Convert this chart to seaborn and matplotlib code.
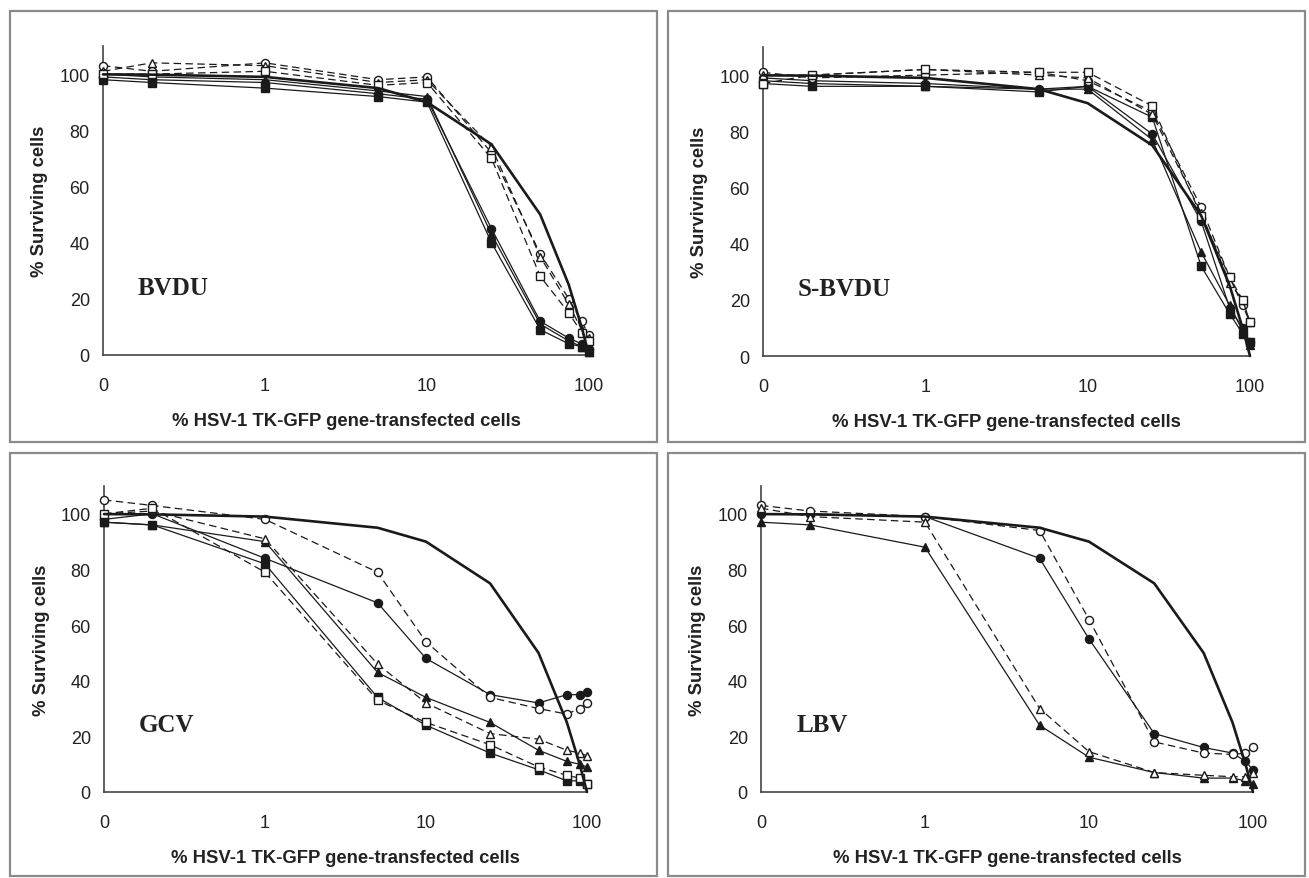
import matplotlib
matplotlib.use("Agg")
import matplotlib.pyplot as plt
import seaborn as sns
import pandas as pd
from matplotlib.patches import Rectangle

# ---------------- data ----------------
x_pct = [0.1, 0.2, 1, 5, 10, 25, 50, 75, 90, 100]
x_ticks = [0.1, 1, 10, 100]
x_ticklabels = ["0", "1", "10", "100"]
y_ticks = [0, 20, 40, 60, 80, 100]
theory = [99.9, 99.8, 99, 95, 90, 75, 50, 25, 10, 0]

bvdu_filled_circle = [99, 98, 97, 93, 91, 45, 12, 6, 4, 2]
bvdu_filled_triangle = [100, 99, 98, 94, 92, 43, 11, 5, 3, 1]
bvdu_filled_square = [98, 97, 95, 92, 90, 40, 9, 4, 3, 1]
bvdu_open_circle = [103, 101, 104, 98, 99, 72, 36, 20, 12, 7]
bvdu_open_triangle = [101, 104, 103, 97, 98, 74, 35, 18, 9, 6]
bvdu_open_square = [100, 100, 101, 96, 97, 70, 28, 15, 8, 5]

sbvdu_filled_circle = [99, 98, 97, 95, 96, 79, 48, 17, 10, 5]
sbvdu_filled_triangle = [98, 97, 96, 95, 95, 77, 37, 18, 9, 4]
sbvdu_filled_square = [97, 96, 96, 94, 96, 85, 32, 15, 8, 5]
sbvdu_open_circle = [101, 99, 100, 101, 98, 87, 53, 28, 18, 12]
sbvdu_open_triangle = [100, 100, 102, 100, 99, 86, 51, 26, 20, 12]
sbvdu_open_square = [97, 100, 102, 101, 101, 89, 50, 28, 20, 12]

gcv_open_circle = [105, 103, 98, 79, 54, 34, 30, 28, 30, 32]
gcv_filled_circle = [98, 100, 84, 68, 48, 35, 32, 35, 35, 36]
gcv_open_triangle = [100, 101, 91, 46, 32, 21, 19, 15, 14, 13]
gcv_filled_triangle = [97, 96, 90, 43, 34, 25, 15, 11, 10, 9]
gcv_open_square = [100, 102, 79, 33, 25, 17, 9, 6, 5, 3]
gcv_filled_square = [97, 96, 82, 34, 24, 14, 8, 4, 4, 3]

lbv_open_circle = [103, 101, 99, 94, 62, 18, 14, 13.5, 14, 16]
lbv_filled_circle = [100, 100, 99, 84, 55, 21, 16, 14, 11, 8]
lbv_open_triangle = [102, 99, 97, 30, 14.5, 7, 6, 5.5, 5.5, 7]
lbv_filled_triangle = [97, 96, 88, 24, 12.5, 7, 5, 5, 4, 3]

panels = [
    ("BVDU", [("o", True, bvdu_filled_circle), ("^", True, bvdu_filled_triangle),
              ("s", True, bvdu_filled_square), ("o", False, bvdu_open_circle),
              ("^", False, bvdu_open_triangle), ("s", False, bvdu_open_square)]),
    ("S-BVDU", [("o", True, sbvdu_filled_circle), ("^", True, sbvdu_filled_triangle),
                ("s", True, sbvdu_filled_square), ("o", False, sbvdu_open_circle),
                ("^", False, sbvdu_open_triangle), ("s", False, sbvdu_open_square)]),
    ("GCV", [("o", True, gcv_filled_circle), ("^", True, gcv_filled_triangle),
             ("s", True, gcv_filled_square), ("o", False, gcv_open_circle),
             ("^", False, gcv_open_triangle), ("s", False, gcv_open_square)]),
    ("LBV", [("o", True, lbv_filled_circle), ("^", True, lbv_filled_triangle),
             ("o", False, lbv_open_circle), ("^", False, lbv_open_triangle)]),
]

# ---------------- layout (pixels) ----------------
W, H = 1309, 879
ax_px = [(103, 47, 589, 356), (763, 48, 1250, 357),
         (104, 487, 587, 793), (761, 487, 1253, 793)]
box_px = [(10, 12, 657, 443), (668, 12, 1305, 443),
          (10, 454, 657, 877), (668, 454, 1305, 877)]

sns.set_style("white")
plt.rcParams["font.family"] = ["Liberation Sans", "DejaVu Sans"]

fig = plt.figure(figsize=(W / 100, H / 100), dpi=100)

for (l, t, r, b) in box_px:
    fig.add_artist(Rectangle((l / W, 1 - b / H), (r - l) / W, (b - t) / H,
                             transform=fig.transFigure, fill=False,
                             edgecolor="#8a8a8a", linewidth=1.6))

ink = "#1a1a1a"
for (name, series), (l, t, r, b) in zip(panels, ax_px):
    ax = fig.add_axes([l / W, 1 - b / H, (r - l) / W, (b - t) / H])
    ax.set_xscale("log")
    for marker, filled, vals in series:
        df = pd.DataFrame({"x": x_pct, "y": vals})
        sns.lineplot(data=df, x="x", y="y", ax=ax, errorbar=None,
                     color=ink, linewidth=0.9,
                     linestyle="-" if filled else (0, (6, 3.5)),
                     marker=marker, markersize=5.8 if marker != "^" else 6.3,
                     markerfacecolor=ink if filled else "white",
                     markeredgecolor=ink, markeredgewidth=1.0,
                     clip_on=False, zorder=3)
    dft = pd.DataFrame({"x": x_pct, "y": theory})
    sns.lineplot(data=dft, x="x", y="y", ax=ax, errorbar=None, color=ink,
                 linewidth=1.9, clip_on=False, zorder=4)

    ax.set_xlim(0.1, 100)
    ax.set_ylim(0, 110)
    ax.set_xticks(x_ticks)
    ax.set_xticklabels(x_ticklabels)
    ax.minorticks_off()
    ax.set_yticks(y_ticks)
    ax.tick_params(axis="x", direction="inout", length=7, width=1,
                   color="#444444", pad=12, labelsize=13, labelcolor="#222222")
    ax.tick_params(axis="y", direction="inout", length=7, width=1,
                   color="#444444", pad=6, labelsize=13, labelcolor="#222222")
    for s in ["top", "right"]:
        ax.spines[s].set_visible(False)
    for s in ["left", "bottom"]:
        ax.spines[s].set_color("#444444")
        ax.spines[s].set_linewidth(1.2)
    ax.set_xlabel("")
    ax.set_ylabel("")
    ax.patch.set_alpha(0)

    ax.text(0.5, -0.213, "% HSV-1 TK-GFP gene-transfected cells",
            transform=ax.transAxes, ha="center", va="center",
            fontsize=13.3, fontweight="bold", color="#222222")
    ax.text(-0.13, 0.5, "% Surviving cells", transform=ax.transAxes,
            ha="center", va="center", rotation=90,
            fontsize=13.3, fontweight="bold", color="#222222")
    ax.text(0.072, 0.22, name, transform=ax.transAxes, ha="left", va="center",
            fontsize=18, fontweight="bold", color="#222222",
            family=["Liberation Serif", "DejaVu Serif"])

fig.savefig("out.png", dpi=100)
